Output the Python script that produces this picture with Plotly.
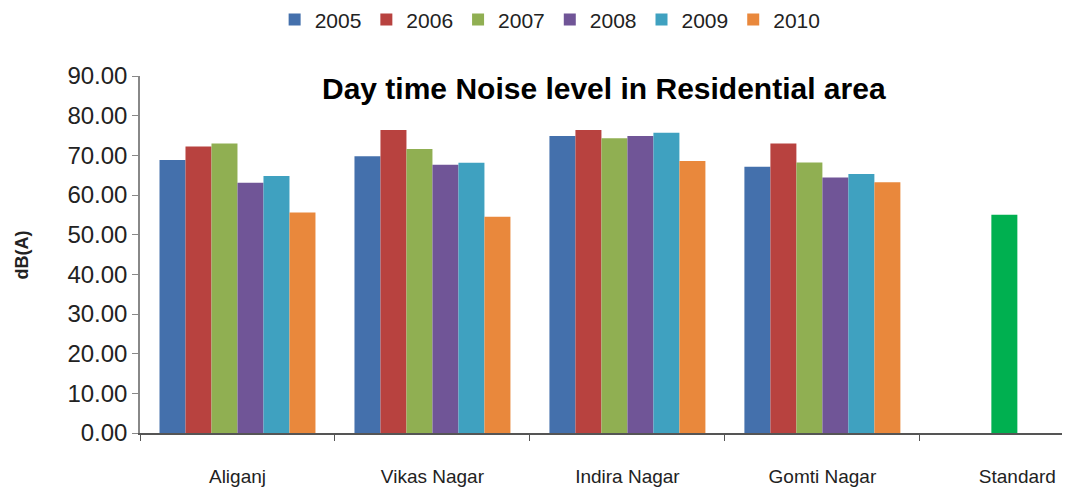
import plotly.graph_objects as go

# Data
areas = ["Aliganj", "Vikas Nagar", "Indira Nagar", "Gomti Nagar", "Standard"]
years = ["2005", "2006", "2007", "2008", "2009", "2010"]

y2005 = [68.8, 69.8, 74.9, 67.1, None]
y2006 = [72.2, 76.4, 76.4, 73.0, None]
y2007 = [73.0, 71.6, 74.3, 68.2, 55.0]   # Standard is drawn in this slot
y2008 = [63.1, 67.6, 74.9, 64.4, None]
y2009 = [64.8, 68.1, 75.7, 65.3, None]
y2010 = [55.6, 54.5, 68.6, 63.2, None]

colors = ["#4470AC", "#B8423F", "#90AF52", "#705597", "#3FA1C0", "#E9883C"]
standard_color = "#00B050"

series = [y2005, y2006, y2007, y2008, y2009, y2010]

fig = go.Figure()

for name, vals, col in zip(years, series, colors):
    if name == "2007":
        bar_cols = [col] * 4 + [standard_color]
    else:
        bar_cols = col
    fig.add_trace(go.Bar(
        x=areas,
        y=vals,
        name=name,
        marker=dict(color=bar_cols, line=dict(width=0)),
    ))

# Titles
fig.add_annotation(
    text="<b>Day time Noise level in Residential area</b>",
    xref="paper", yref="paper",
    x=0.499, y=0.964,
    xanchor="center", yanchor="middle",
    showarrow=False,
    font=dict(size=30, color="black"),
)
fig.add_annotation(
    text="<b>dB(A)</b>",
    xref="paper", yref="paper",
    x=-0.127, y=0.5,
    xanchor="center", yanchor="middle",
    textangle=-90,
    showarrow=False,
    font=dict(size=18, color="#222"),
)

# page body has an 8px margin, so the margins are shifted by that
fig.update_layout(
    width=1070,
    height=492,
    margin=dict(l=132, r=8, t=68, b=67, autoexpand=False),
    plot_bgcolor="white",
    paper_bgcolor="white",
    font=dict(family="Liberation Sans, Arial, sans-serif", color="#222", size=20),
    barmode="group",
    bargap=0.2,
    bargroupgap=0,
    showlegend=True,
    legend=dict(
        orientation="h",
        x=0.441, y=1.157,
        xanchor="center", yanchor="middle",
        font=dict(size=21),
        itemclick=False,
    ),
    xaxis=dict(
        type="category",
        range=[-0.5, 4.27],
        automargin=False,
        showline=True,
        linecolor="#555",
        linewidth=1.5,
        ticks="outside",
        tickson="boundaries",
        ticklen=6,
        tickcolor="#555",
        ticklabelstandoff=25,
        tickfont=dict(size=19),
        showgrid=False,
    ),
    yaxis=dict(
        range=[0, 90],
        dtick=10,
        tickformat=".2f",
        automargin=False,
        showline=True,
        linecolor="#888",
        linewidth=1.5,
        ticks="outside",
        ticklen=6,
        tickcolor="#888",
        tickfont=dict(size=24),
        showgrid=False,
        zeroline=False,
    ),
)

fig.write_html("out.html")
